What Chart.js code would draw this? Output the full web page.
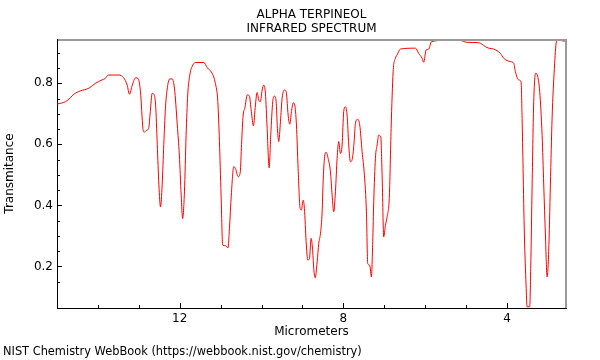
<!DOCTYPE html>
<html>
<head>
<meta charset="utf-8">
<script src="https://cdn.jsdelivr.net/npm/chart.js@4.4.0/dist/chart.umd.min.js"></script>
<style>
html,body{margin:0;padding:0;background:#fff;}
canvas{display:block;}
</style>
</head>
<body>
<canvas id="ir" width="600" height="360"></canvas>
<script>
// ============ SPECTRUM DATA ============
const wavelength = [
  15.0, 14.79, 14.67, 14.59, 14.43, 14.22, 14.06, 13.90, 13.82, 13.75,
  13.49, 13.37, 13.285, 13.23, 13.16, 13.08, 13.02, 12.96, 12.90, 12.87,
  12.80, 12.76, 12.72, 12.675, 12.635, 12.59, 12.55, 12.51, 12.47, 12.43,
  12.39, 12.35, 12.31, 12.25, 12.185, 12.13, 12.06, 12.01, 11.965, 11.93,
  11.885, 11.845, 11.805, 11.755, 11.70, 11.62, 11.41, 11.33, 11.21, 11.13,
  11.07, 11.03, 10.99, 10.95, 10.88, 10.82, 10.785, 10.74, 10.68, 10.64,
  10.57, 10.52, 10.49, 10.45, 10.41, 10.35, 10.30, 10.25, 10.20, 10.15,
  10.11, 10.07, 10.03, 9.986, 9.947, 9.906, 9.864, 9.815, 9.776, 9.727,
  9.686, 9.644, 9.613, 9.581, 9.539, 9.498, 9.434, 9.393, 9.351, 9.312,
  9.27, 9.229, 9.19, 9.148, 9.107, 9.058, 9.026, 8.985, 8.953, 8.911,
  8.872, 8.83, 8.789, 8.75, 8.725, 8.691, 8.642, 8.603, 8.561, 8.52,
  8.496, 8.464, 8.423, 8.374, 8.317, 8.276, 8.237, 8.195, 8.154, 8.114,
  8.073, 8.032, 7.993, 7.951, 7.91, 7.87, 7.829, 7.78, 7.738, 7.706,
  7.65, 7.601, 7.543, 7.487, 7.438, 7.406, 7.357, 7.315, 7.284, 7.259,
  7.218, 7.176, 7.137, 7.088, 7.054, 7.015, 6.973, 6.932, 6.876, 6.834,
  6.785, 6.729, 6.688, 6.607, 6.24, 6.16, 6.077, 6.038, 5.979, 5.915,
  5.85, 5.507, 5.141, 4.977, 4.694, 4.53, 4.45, 4.327, 4.163, 4.083,
  3.919, 3.838, 3.797, 3.716, 3.658, 3.633, 3.609, 3.577, 3.536, 3.511,
  3.447, 3.422, 3.388, 3.349, 3.30, 3.251, 3.202, 3.144, 3.104, 3.063,
  3.022, 2.983, 2.942, 2.90, 2.844, 2.795, 2.737, 2.654, 2.56
];
const transmittance = [
  0.732, 0.74, 0.753, 0.764, 0.775, 0.784, 0.80, 0.811, 0.816, 0.827,
  0.827, 0.818, 0.794, 0.764, 0.794, 0.818, 0.816, 0.772, 0.652, 0.64,
  0.647, 0.652, 0.707, 0.767, 0.764, 0.729, 0.60, 0.467, 0.395, 0.467,
  0.60, 0.718, 0.778, 0.814, 0.814, 0.784, 0.663, 0.565, 0.434, 0.357,
  0.445, 0.63, 0.762, 0.827, 0.854, 0.868, 0.868, 0.851, 0.833, 0.80,
  0.74, 0.609, 0.434, 0.27, 0.268, 0.261, 0.325, 0.434, 0.527, 0.521,
  0.494, 0.51, 0.60, 0.696, 0.718, 0.762, 0.759, 0.707, 0.661, 0.729,
  0.77, 0.745, 0.74, 0.778, 0.794, 0.767, 0.652, 0.523, 0.63, 0.74,
  0.758, 0.74, 0.652, 0.609, 0.674, 0.751, 0.778, 0.767, 0.696, 0.666,
  0.707, 0.736, 0.729, 0.663, 0.521, 0.39, 0.385, 0.417, 0.39, 0.281,
  0.221, 0.226, 0.292, 0.248, 0.193, 0.163, 0.215, 0.275, 0.308, 0.379,
  0.477, 0.554, 0.574, 0.554, 0.51, 0.434, 0.379, 0.445, 0.554, 0.609,
  0.57, 0.598, 0.707, 0.723, 0.696, 0.598, 0.543, 0.554, 0.609, 0.669,
  0.682, 0.663, 0.576, 0.499, 0.379, 0.21, 0.204, 0.166, 0.281, 0.412,
  0.554, 0.598, 0.63, 0.625, 0.499, 0.297, 0.335, 0.363, 0.434, 0.652,
  0.838, 0.882, 0.893, 0.912, 0.915, 0.898, 0.882, 0.869, 0.909, 0.912,
  0.936, 0.941, 0.94, 0.934, 0.933, 0.92, 0.915, 0.912, 0.898, 0.882,
  0.871, 0.866, 0.838, 0.811, 0.805, 0.685, 0.521, 0.303, 0.139, 0.068,
  0.068, 0.193, 0.467, 0.74, 0.833, 0.822, 0.772, 0.63, 0.467, 0.303,
  0.166, 0.248, 0.467, 0.685, 0.849, 0.936, 0.945, 0.939, 0.938
];

// axis ranges and labelled ticks
const xRange = [2.56, 15];
const yRange = [0.064, 0.945];
const xLabelTicks = [4, 8, 12];
const yLabelTicks = [0.2, 0.4, 0.6, 0.8];

const FONT = 'DejaVu Sans';
const isLabelY = v => yLabelTicks.some(t => Math.abs(t - v) < 1e-9);

// inward tick marks, grey top/right frame, source line
const frame = {
  id: 'frame',
  afterDraw(chart) {
    const {ctx, chartArea: a, scales: {x, y}} = chart;
    ctx.save();
    ctx.strokeStyle = '#9a9a9a';
    ctx.lineWidth = 2;
    ctx.beginPath();
    ctx.moveTo(a.left + 1, a.top + 1);
    ctx.lineTo(a.right, a.top + 1);
    ctx.lineTo(a.right, a.bottom);
    ctx.stroke();

    ctx.strokeStyle = '#000';
    ctx.lineWidth = 1;
    ctx.beginPath();
    x.ticks.forEach(t => {
      if (Math.abs(t.value - Math.round(t.value)) > 1e-9) return;
      const px = Math.round(x.getPixelForValue(t.value)) + 0.5;
      const len = xLabelTicks.includes(t.value) ? 5 : 3;
      ctx.moveTo(px, a.bottom);
      ctx.lineTo(px, a.bottom - len);
    });
    y.ticks.forEach(t => {
      const k = t.value / 0.05;
      if (Math.abs(k - Math.round(k)) > 1e-6) return;
      const py = Math.round(y.getPixelForValue(t.value)) + 0.5;
      const len = isLabelY(t.value) ? 5 : 3;
      ctx.moveTo(a.left, py);
      ctx.lineTo(a.left + len, py);
    });
    ctx.stroke();

    ctx.fillStyle = '#000';
    ctx.font = '11.4px "' + FONT + '"';
    ctx.textBaseline = 'middle';
    ctx.textAlign = 'left';
    ctx.fillText('NIST Chemistry WebBook (https://webbook.nist.gov/chemistry)', 3, 352);
    ctx.restore();
  }
};

new Chart(document.getElementById('ir'), {
  type: 'line',
  data: {
    datasets: [{
      data: wavelength.map((w, i) => ({x: w, y: transmittance[i]})),
      borderColor: '#ff0000',
      borderWidth: 1,
      pointRadius: 0,
      cubicInterpolationMode: 'monotone',
      fill: false
    }]
  },
  options: {
    responsive: false,
    animation: false,
    layout: {padding: {left: 0, right: 34, top: 0, bottom: 16}},
    plugins: {
      legend: {display: false},
      tooltip: {enabled: false},
      title: {
        display: true,
        fullSize: false,
        text: ['ALPHA TERPINEOL', 'INFRARED SPECTRUM'],
        color: '#000',
        font: {family: FONT, size: 12, weight: 'normal', lineHeight: 1.15},
        padding: {top: 8, bottom: 3.4}
      }
    },
    scales: {
      x: {
        type: 'linear',
        reverse: true,
        min: xRange[0],
        max: xRange[1],
        grid: {display: false, drawTicks: false},
        border: {display: true, color: '#000', width: 1},
        ticks: {
          stepSize: 1, autoSkip: false, maxRotation: 0, padding: 4,
          color: '#000', font: {family: FONT, size: 12},
          callback: v => xLabelTicks.includes(v) ? String(v) : ''
        },
        title: {
          display: true, text: 'Micrometers', color: '#000',
          font: {family: FONT, size: 12}, padding: {top: 0, bottom: 5}
        },
        afterFit(s) { s.height = 36; }
      },
      y: {
        min: yRange[0],
        max: yRange[1],
        grid: {display: false, drawTicks: false},
        border: {display: true, color: '#000', width: 1},
        ticks: {
          stepSize: 0.05, autoSkip: false, padding: 4,
          color: '#000', font: {family: FONT, size: 12},
          callback: v => isLabelY(v) ? v.toFixed(1) : ''
        },
        title: {
          display: true, text: 'Transmitance', color: '#000',
          font: {family: FONT, size: 12}, padding: {top: 3, bottom: 0}
        },
        afterFit(s) { s.width = 57; }
      }
    }
  },
  plugins: [frame]
});
</script>
</body>
</html>
